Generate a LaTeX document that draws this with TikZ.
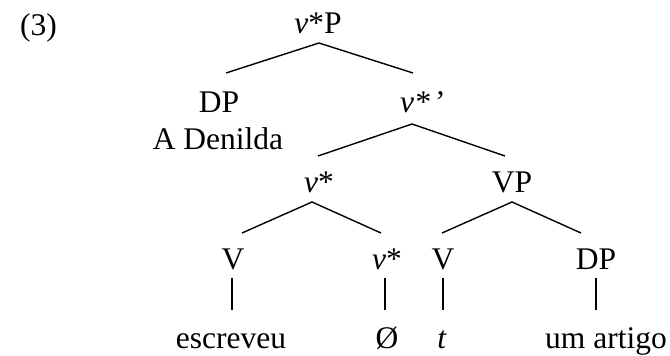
\documentclass[tikz,border=0pt]{standalone}
\usepackage{fontspec}
\setmainfont{Liberation Serif}
\begin{document}
\begin{tikzpicture}[x=1pt,y=-1pt,
  lbl/.style={inner sep=0pt, anchor=base, font=\fontsize{31.5}{34}\selectfont},
  branch/.style={line width=1.4pt}]
\useasboundingbox (0,0) rectangle (670,356);
% example number
\node[lbl, anchor=base west] (num) at (20,35) {(3)};
% category labels and words
\node[lbl] (vP) at (318,33) {\textit{v}*P};
\node[lbl] (DP1) at (219,112) {DP};
\node[lbl] (den) at (218,149) {A Denilda};
\node[lbl, anchor=base west] (vbar) at (400,112) {\textit{v*}\,’};
\node[lbl] (vs) at (319,192) {\textit{v}*};
\node[lbl] (VP) at (512,192) {VP};
\node[lbl] (V1) at (233,269) {V};
\node[lbl] (vs2) at (387,269) {\textit{v}*};
\node[lbl] (V2) at (443,269) {V};
\node[lbl] (DP2) at (596,269) {DP};
\node[lbl] (w1) at (231,348) {escreveu};
\node[lbl] (w2) at (387,348) {Ø};
\node[lbl] (w3) at (442,348) {\textit{t}};
\node[lbl] (w4) at (606,348) {um artigo};
% branch end points
\coordinate (a1) at (319,43);
\coordinate (a1l) at (226,73);
\coordinate (a1r) at (413,73);
\coordinate (a2) at (412,124);
\coordinate (a2l) at (318,156);
\coordinate (a2r) at (505,156);
\coordinate (a3) at (312,202);
\coordinate (a3l) at (242,233);
\coordinate (a3r) at (381,233);
\coordinate (a4) at (512,202);
\coordinate (a4l) at (442,233);
\coordinate (a4r) at (581,233);
\draw[branch] (a1l) -- (a1) -- (a1r);
\draw[branch] (a2l) -- (a2) -- (a2r);
\draw[branch] (a3l) -- (a3) -- (a3r);
\draw[branch] (a4l) -- (a4) -- (a4r);
% unary links from heads to words
\coordinate (u1t) at (232,278); \coordinate (u1b) at (232,310);
\coordinate (u2t) at (385,278); \coordinate (u2b) at (385,310);
\coordinate (u3t) at (443,278); \coordinate (u3b) at (443,310);
\coordinate (u4t) at (596,278); \coordinate (u4b) at (596,310);
\draw[branch] (u1t) -- (u1b);
\draw[branch] (u2t) -- (u2b);
\draw[branch] (u3t) -- (u3b);
\draw[branch] (u4t) -- (u4b);
\end{tikzpicture}
\end{document}
